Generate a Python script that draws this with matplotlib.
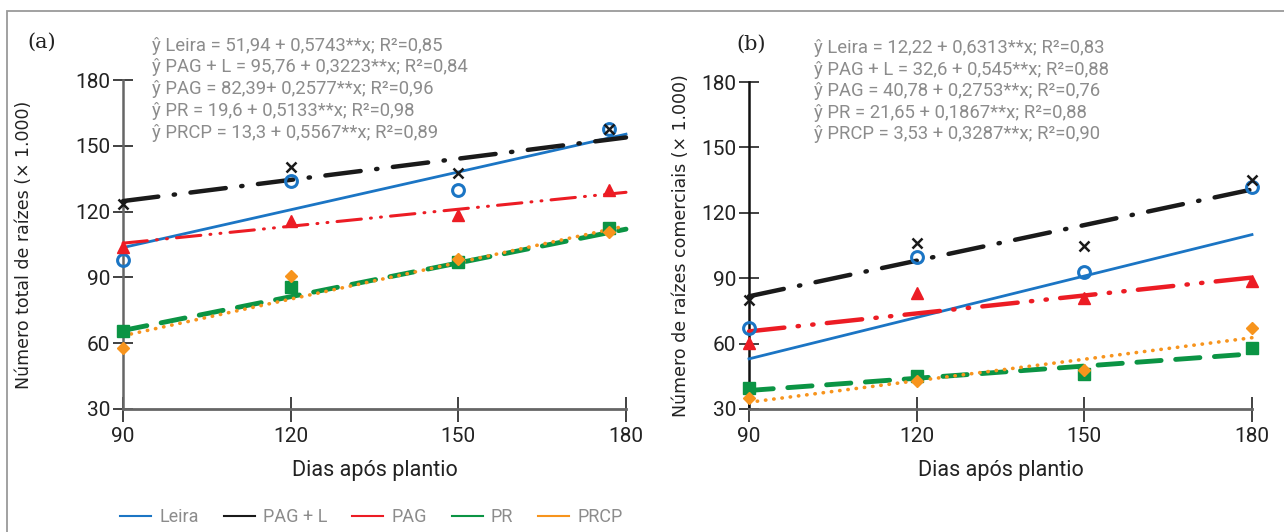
import matplotlib
matplotlib.use("Agg")
import matplotlib.pyplot as plt
from matplotlib.lines import Line2D
from matplotlib.patches import Rectangle

# --- data ---
series = ["Leira", "PAG + L", "PAG", "PR", "PRCP"]

days_a = [90, 120, 150, 177]
leira_a = [98, 134, 130, 157.5]
pagl_a = [123.5, 140.5, 137.5, 157.5]
pag_a = [104, 115.5, 118.5, 130]
pr_a = [65.5, 85.5, 97, 112.5]
prcp_a = [58, 90.5, 98.5, 110.5]

days_b = [90, 120, 150, 180]
leira_b = [67, 99.5, 93, 132]
pagl_b = [80, 106, 105, 135]
pag_b = [60.5, 83, 81, 88.5]
pr_b = [39.5, 45, 46, 58]
prcp_b = [35, 43, 48, 67]

# fitted lines, value at 90 and at 180 days
fit_x = [90, 180]
fit_a = [[103.6, 155.3], [124.8, 153.8], [105.6, 128.8], [65.8, 112.0], [63.4, 113.5]]
fit_b = [[53.0, 110.0], [81.7, 130.7], [65.6, 90.3], [38.5, 55.3], [33.1, 62.7]]

eq_a = ["ŷ Leira = 51,94 + 0,5743**x; R²=0,85",
        "ŷ PAG + L = 95,76 + 0,3223**x; R²=0,84",
        "ŷ PAG = 82,39+ 0,2577**x; R²=0,96",
        "ŷ PR = 19,6 + 0,5133**x; R²=0,98",
        "ŷ PRCP = 13,3 + 0,5567**x; R²=0,89"]
eq_b = ["ŷ Leira = 12,22 + 0,6313**x; R²=0,83",
        "ŷ PAG + L = 32,6 + 0,545**x; R²=0,88",
        "ŷ PAG = 40,78 + 0,2753**x; R²=0,76",
        "ŷ PR = 21,65 + 0,1867**x; R²=0,88",
        "ŷ PRCP = 3,53 + 0,3287**x; R²=0,90"]

xticks = [90, 120, 150, 180]
yticks = [30, 60, 90, 120, 150, 180]

NARROW = ["Roboto", "DejaVu Sans"]
colors = ["#1b75c4", "#1a1a1a", "#ec1c24", "#0b9444", "#f7941d"]
markers = [dict(marker="o", mfc="none", mec=colors[0], mew=2.2, ms=8.5),
           dict(marker="x", mec=colors[1], mew=1.8, ms=7),
           dict(marker="^", mfc=colors[2], mec=colors[2], ms=8),
           dict(marker="s", mfc=colors[3], mec=colors[3], ms=9),
           dict(marker="D", mfc=colors[4], mec=colors[4], ms=6)]


def line_styles(lw_pag):
    return [dict(ls="-", lw=2.0),
            dict(ls=(0, (8, 3.5, 0.3, 3.5)), lw=3.2, dash_capstyle="round"),
            dict(ls=(0, (8, 3, 0.3, 3, 0.3, 3)), lw=lw_pag, dash_capstyle="round"),
            dict(ls=(0, (5, 3)), lw=3.5, dash_capstyle="round"),
            dict(ls=(0, (0.1, 2.2)), lw=2.6, dash_capstyle="round")]


fig = plt.figure(figsize=(12.84, 5.32), dpi=100)
fig.add_artist(Rectangle((7 / 1284, -0.1), 1.2, 1 - 11 / 532 + 0.1, transform=fig.transFigure,
                         fill=False, ec="#9a9a9a", lw=1.3))

ax_a = fig.add_axes([123 / 1284, 1 - 409 / 532, 503 / 1284, 329 / 532])
ax_b = fig.add_axes([749 / 1284, 1 - 409 / 532, 503 / 1284, 327 / 532])

panels = [
    (ax_a, days_a, [leira_a, pagl_a, pag_a, pr_a, prcp_a], fit_a, eq_a, "(a)",
     "Número total de raízes (× 1.000)", 2.2, "#666666", -0.179),
    (ax_b, days_b, [leira_b, pagl_b, pag_b, pr_b, prcp_b], fit_b, eq_b, "(b)",
     "Número de raízes comerciais (× 1.000)", 3.2, "#111111", -0.117),
]

for ax, days, vals, fits, eqs, tag, ylab, lw_pag, lcol, ylx in panels:
    styles = line_styles(lw_pag)
    for i in range(5):
        ax.plot(fit_x, fits[i], color=colors[i], clip_on=False, zorder=3, **styles[i])
    for i in range(5):
        ax.plot(days, vals[i], ls="none", clip_on=False, zorder=4, **markers[i])

    ax.set_xlim(90, 180)
    ax.set_ylim(30, 180)
    ax.set_xticks(xticks)
    ax.set_yticks(yticks)
    for s in ["top", "right"]:
        ax.spines[s].set_visible(False)
    ax.spines["left"].set_color(lcol)
    ax.spines["left"].set_linewidth(1.8)
    ax.spines["bottom"].set_color("#666666")
    ax.spines["bottom"].set_linewidth(2)
    ax.tick_params(axis="y", direction="inout", length=14, width=1.3, color="#333333",
                   labelsize=15, labelcolor="#222222", pad=2)
    ax.tick_params(axis="x", direction="inout", length=18, width=1.3, color="#333333",
                   labelsize=15, labelcolor="#222222", pad=4)
    for lab in ax.get_xticklabels() + ax.get_yticklabels():
        lab.set_family(NARROW)
    ax.set_xlabel("Dias após plantio", fontsize=15.5, family=NARROW, color="#222222", labelpad=10)
    ax.set_ylabel(ylab, fontsize=12.5, family="DejaVu Sans", color="#222222")
    ax.yaxis.set_label_coords(ylx, 0.5)

    ax.text(-0.19 if ax is ax_a else -0.025, 1.115, tag, transform=ax.transAxes, fontsize=15,
            family="DejaVu Serif", color="#222222", ha="left", va="center")
    x0 = 0.058 if ax is ax_a else 0.13
    for k, e in enumerate(eqs):
        ax.text(x0, 1.104 - k * 0.066, e, transform=ax.transAxes, fontsize=13.3,
                family=NARROW, color="#8c8c8c", ha="left", va="center")

handles = [Line2D([0], [0], color=c, lw=1.5) for c in colors]
leg = fig.legend(handles, series, loc="center left", bbox_to_anchor=(104 / 1284, 1 - 517 / 532),
                 ncol=5, frameon=False, fontsize=13, handlelength=1.7, handletextpad=0.45,
                 columnspacing=1.4)
for t in leg.get_texts():
    t.set_color("#8c8c8c")
    t.set_family(NARROW)

fig.savefig("out.png", dpi=100)
